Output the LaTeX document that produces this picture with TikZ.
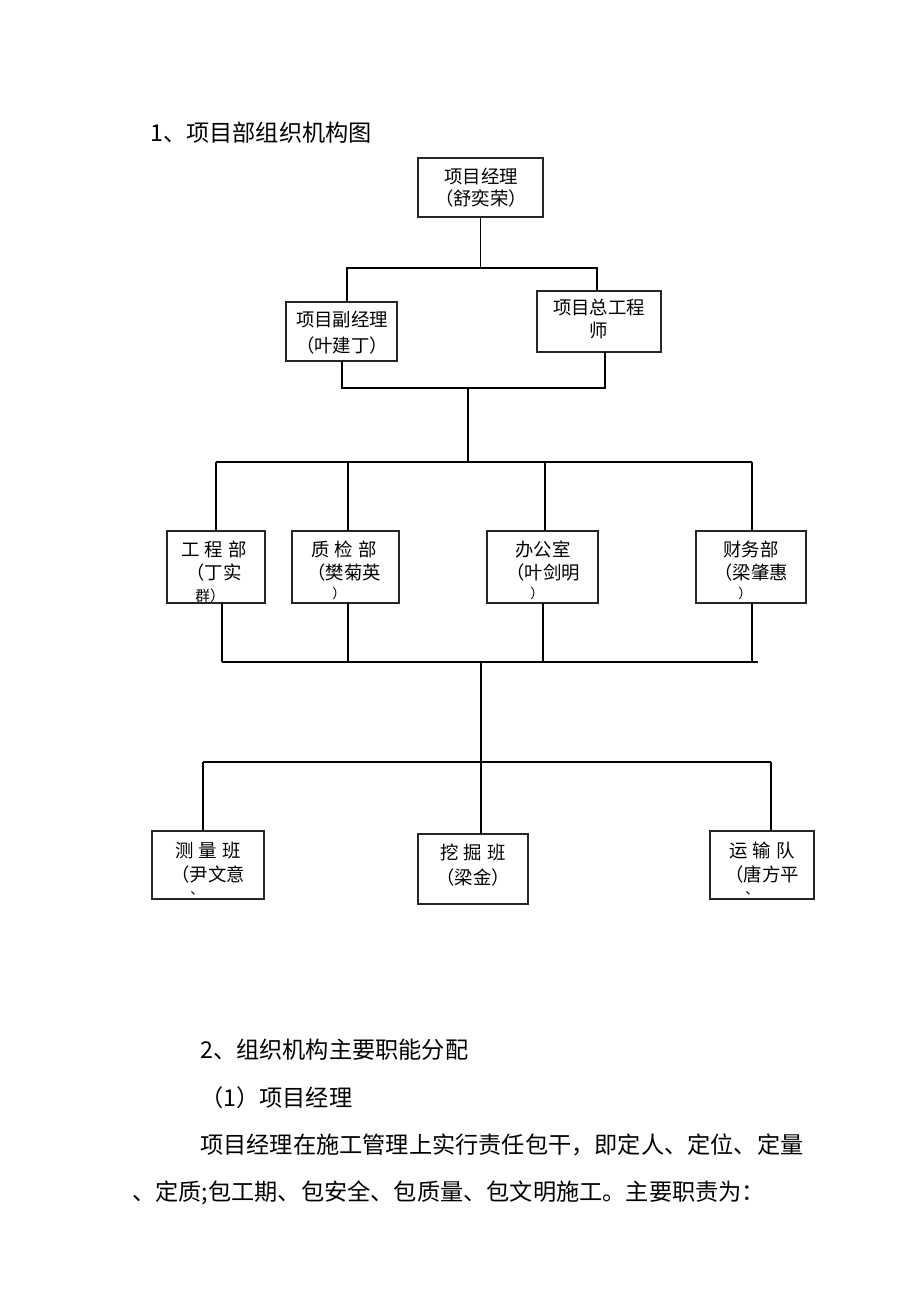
\documentclass[tikz,border=0pt]{standalone}
\usepackage{fontspec}
\setmainfont{Noto Sans CJK SC}
\begin{document}
\begin{tikzpicture}[x=0.75pt,y=-0.75pt,
  box/.style={draw=black!85, line width=1.1pt, inner sep=0pt, outer sep=0pt},
  ln/.style={line width=1.1pt},
  bt/.style={font=\fontsize{13.8}{15}\selectfont, inner sep=0pt},
  para/.style={font=\fontsize{17.4}{20}\selectfont, anchor=west, inner sep=0pt}]
\useasboundingbox[fill=white] (0,0) rectangle (920,1302);
\newcommand\bx[5]{\node[box, minimum width=#4*0.75pt, minimum height=#5*0.75pt] (#1) at (#2,#3) {};}
% boxes
\bx{pm}{480.5}{187.5}{125}{59}
\bx{dpm}{341.5}{331.5}{111}{59}
\bx{ce}{599}{321.5}{124}{61}
\bx{gcb}{216}{567}{98}{72}
\bx{zjb}{345.5}{567}{107}{72}
\bx{bgs}{542.5}{567}{111}{72}
\bx{cwb}{751}{567}{110}{72}
\bx{clb}{208}{865}{112}{68}
\bx{wjb}{473}{869}{110}{70}
\bx{ysd}{762}{865}{104}{68}
% texts in boxes
\node[bt] (t1) at (481,176) {项目经理};
\node[bt] (t2) at (481,199) {（舒奕荣）};
\node[bt] (t3) at (342,320) {项目副经理};
\node[bt] (t4) at (342,346) {（叶建丁）};
\node[bt] (t5) at (599,308) {项目总工程};
\node[bt] (t6) at (599,331) {师};
\node[bt] (t7) at (214,549) {工\hspace{4pt}程\hspace{4pt}部};
\node[bt] (t8) at (214,573) {（丁实};
\begin{scope}
\clip (gcb.north west) rectangle (gcb.south east);
\node[bt, font=\fontsize{11}{12}\selectfont] (t9) at (210,596) {群）};
\end{scope}
\node[bt] (t10) at (344,549) {质\hspace{4pt}检\hspace{4pt}部};
\node[bt] (t11) at (344,573) {（樊菊英};
\node[bt, font=\fontsize{10}{12}\selectfont] (t12) at (339,593) {）};
\node[bt] (t13) at (543,549) {办公室};
\node[bt] (t14) at (543,573) {（叶剑明};
\node[bt, font=\fontsize{10}{12}\selectfont] (t15) at (537,593) {）};
\node[bt] (t16) at (751,549) {财务部};
\node[bt] (t17) at (751,573) {（梁肇惠};
\node[bt, font=\fontsize{10}{12}\selectfont] (t18) at (745,593) {）};
\node[bt] (t19) at (208,851) {测\hspace{4pt}量\hspace{4pt}班};
\node[bt] (t20) at (208,874) {（尹文意};
\node[bt, font=\fontsize{10}{12}\selectfont] (t21) at (197,893) {、};
\node[bt] (t22) at (473,852) {挖\hspace{4pt}掘\hspace{4pt}班};
\node[bt] (t23) at (473,877) {（梁金）};
\node[bt] (t24) at (762,851) {运\hspace{4pt}输\hspace{4pt}队};
\node[bt] (t25) at (762,874) {（唐方平};
\node[bt, font=\fontsize{10}{12}\selectfont] (t26) at (752,893) {、};
% connectors
\coordinate (a1) at (347,268);
\coordinate (a2) at (597,268);
\draw[ln] (pm.south) -- (pm.south |- a1);
\draw[ln] (a1 |- dpm.north) -- (a1) -- (a2) -- (a2 |- ce.north);
\coordinate (b1) at (342,388);
\coordinate (b2) at (605,388);
\coordinate (b3) at (468,388);
\coordinate (c0) at (468,462);
\draw[ln] (b1 |- dpm.south) -- (b1) -- (b2) -- (b2 |- ce.south);
\draw[ln] (b3) -- (c0);
\coordinate (c1) at (216,462);
\coordinate (c2) at (348,462);
\coordinate (c3) at (545,462);
\coordinate (c4) at (752,462);
\draw[ln] (c1) -- (c4);
\draw[ln] (c1) -- (c1 |- gcb.north);
\draw[ln] (c2) -- (c2 |- zjb.north);
\draw[ln] (c3) -- (c3 |- bgs.north);
\draw[ln] (c4) -- (c4 |- cwb.north);
\coordinate (d1) at (222,662);
\coordinate (d2) at (348,662);
\coordinate (d3) at (543,662);
\coordinate (d4) at (752,662);
\coordinate (d5) at (758,662);
\draw[ln] (d1) -- (d5);
\draw[ln] (d1 |- gcb.south) -- (d1);
\draw[ln] (d2 |- zjb.south) -- (d2);
\draw[ln] (d3 |- bgs.south) -- (d3);
\draw[ln] (d4 |- cwb.south) -- (d4);
\coordinate (e0) at (481,662);
\coordinate (f2) at (481,762);
\draw[ln] (e0) -- (f2);
\coordinate (f1) at (203,762);
\coordinate (f3) at (771,762);
\draw[ln] (f1) -- (f3);
\draw[ln] (f1) -- (f1 |- clb.north);
\draw[ln] (f2) -- (f2 |- wjb.north);
\draw[ln] (f3) -- (f3 |- ysd.north);
% paragraph texts
\node[para] (p1) at (150,133) {1、项目部组织机构图};
\node[para] (p2) at (200,1050) {2、组织机构主要职能分配};
\node[para] (p3) at (200,1098) {（1）项目经理};
\node[para] (p4) at (200,1145) {项目经理在施工管理上实行责任包干，即定人、定位、定量};
\node[para] (p5) at (132,1193) {、定质;包工期、包安全、包质量、包文明施工。主要职责为：};
\end{tikzpicture}
\end{document}
